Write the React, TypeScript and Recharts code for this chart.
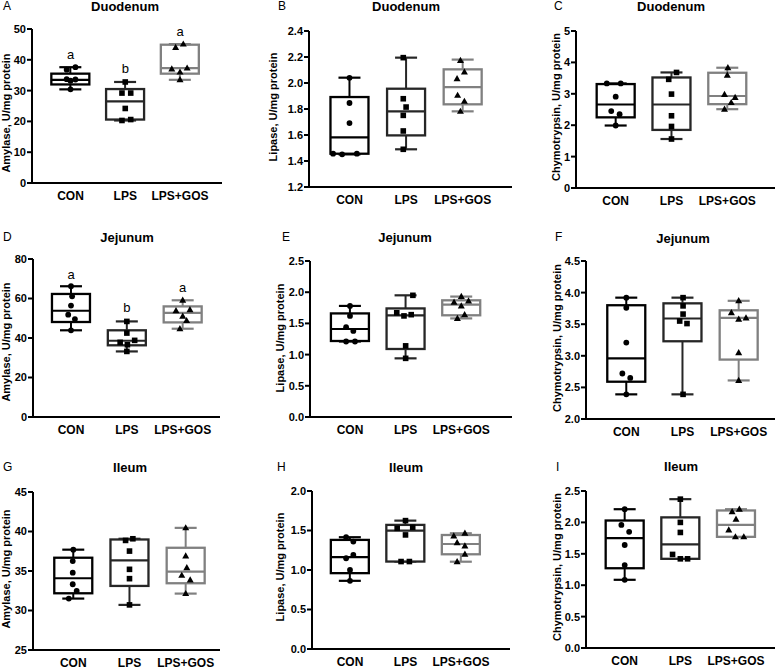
import React from 'react';
import { ComposedChart, Bar, Scatter, XAxis, YAxis } from 'recharts';

const GROUPS = ['CON', 'LPS', 'LPS+GOS'];

// Box stats per group: [min, q1, median, q3, max]  (CON, LPS, LPS+GOS)
const A_BOX = [[30.4, 32.0, 33.5, 35.5, 37.6], [20.3, 20.6, 26.5, 30.5, 32.8], [33.5, 35.5, 37.3, 44.9, 45.1]];
const A_PTS = [[37.6, 36.8, 33.7, 33.2, 33.6, 30.4], [32.8, 29.2, 29.2, 24.2, 20.3, 20.6], [45.1, 44.0, 37.0, 36.0, 37.3, 33.5]];
const A_JIT = [[0.09, -0.07, -0.07, 0, 0.09, 0], [0, -0.06, 0.1, 0, -0.06, 0.1], [0.06, -0.08, -0.15, 0, 0.13, 0]];
const A_SIG = ['a', 'b', 'a'];
const A_SIG_Y = [41.6, 37.3, 49.2];
const A_TICKS = [0, 10, 20, 30, 40, 50];

const B_BOX = [[1.451, 1.456, 1.582, 1.892, 2.041], [1.49, 1.597, 1.782, 1.956, 2.195], [1.782, 1.836, 1.969, 2.105, 2.18]];
const B_PTS = [[2.04, 1.846, 1.692, 1.456, 1.451, 1.456], [2.195, 1.879, 1.815, 1.751, 1.631, 1.49], [2.174, 2.085, 2.033, 1.905, 1.859, 1.782]];
const B_JIT = [[0, 0, 0, -0.29, -0.13, 0.13], [-0.05, -0.05, 0, -0.05, -0.05, -0.05], [-0.04, 0.03, -0.1, -0.09, 0.03, -0.04]];
const B_TICKS = [1.2, 1.4, 1.6, 1.8, 2.0, 2.2, 2.4];

const C_BOX = [[1.99, 2.25, 2.66, 3.31, 3.33], [1.56, 1.85, 2.66, 3.52, 3.68], [2.51, 2.67, 2.93, 3.67, 3.83]];
const C_PTS = [[3.33, 3.33, 2.91, 2.45, 2.35, 1.99], [3.68, 3.46, 2.99, 2.3, 1.96, 1.56], [3.83, 3.59, 2.98, 2.88, 2.72, 2.51]];
const C_JIT = [[-0.16, 0.09, 0, -0.08, 0.07, 0], [0.09, -0.05, 0, 0, 0, 0], [0.01, 0, -0.05, 0.14, 0.07, -0.05]];
const C_TICKS = [0, 1, 2, 3, 4, 5];

const D_BOX = [[43.9, 48.1, 53.8, 62.3, 66.2], [33.2, 36.3, 38.6, 43.9, 48.4], [44.7, 47.9, 52.7, 56.0, 59.1]];
const D_PTS = [[66.2, 61.1, 56.4, 51.8, 49.6, 43.9], [48.4, 42.5, 37.8, 38.8, 36.6, 33.2], [59.1, 53.8, 54.3, 51.0, 48.8, 44.7]];
const D_JIT = [[0, 0.02, 0, -0.05, 0.07, 0], [0, 0, -0.12, 0.14, 0.01, 0], [0, -0.12, 0.13, 0, 0.07, -0.05]];
const D_SIG = ['a', 'b', 'a'];
const D_SIG_Y = [72, 55.2, 65.7];
const D_TICKS = [0, 20, 40, 60, 80];

const E_BOX = [[1.21, 1.218, 1.41, 1.66, 1.78], [0.94, 1.09, 1.63, 1.74, 1.95], [1.58, 1.63, 1.8, 1.87, 1.93]];
const E_PTS = [[1.78, 1.62, 1.44, 1.38, 1.21, 1.21], [1.95, 1.67, 1.62, 1.64, 1.14, 0.94], [1.93, 1.84, 1.86, 1.78, 1.64, 1.58]];
const E_JIT = [[0, 0, -0.07, 0.06, -0.07, 0.09], [0.13, -0.16, -0.03, 0.1, 0, 0], [0, -0.13, 0.13, 0, 0.06, -0.07]];
const E_TICKS = [0, 0.5, 1.0, 1.5, 2.0, 2.5];

const F_BOX = [[2.39, 2.59, 2.96, 3.8, 3.92], [2.39, 3.23, 3.59, 3.83, 3.92], [2.61, 2.94, 3.6, 3.72, 3.87]];
const F_PTS = [[3.92, 3.76, 3.21, 2.72, 2.65, 2.39], [3.92, 3.79, 3.66, 3.55, 3.51, 2.39], [3.87, 3.68, 3.58, 3.6, 3.05, 2.61]];
const F_JIT = [[0, 0, 0, -0.07, 0.07, 0], [0.01, 0.01, 0.01, -0.05, 0.08, 0.01], [0, -0.13, 0, 0.13, 0, 0]];
const F_TICKS = [2.0, 2.5, 3.0, 3.5, 4.0, 4.5];

const G_BOX = [[31.51, 32.18, 34.08, 36.68, 37.7], [30.71, 33.11, 36.34, 38.99, 39.08], [32.14, 33.45, 34.92, 37.94, 40.46]];
const G_PTS = [[37.7, 36.26, 34.79, 33.32, 32.48, 31.51], [38.87, 39.08, 37.52, 35.21, 34.03, 30.71], [40.46, 36.89, 35.42, 34.45, 33.87, 32.14]];
const G_JIT = [[0, -0.01, -0.01, -0.01, 0.06, -0.08], [-0.07, 0.06, 0, 0, 0, 0], [0, 0, 0.02, -0.07, 0.08, 0]];
const G_TICKS = [25, 30, 35, 40, 45];

const H_BOX = [[0.863, 0.96, 1.162, 1.381, 1.415], [1.107, 1.107, 1.499, 1.571, 1.625], [1.105, 1.199, 1.329, 1.443, 1.465]];
const H_PTS = [[1.415, 1.36, 1.149, 1.19, 1.0, 0.863], [1.625, 1.528, 1.541, 1.444, 1.107, 1.107], [1.43, 1.465, 1.346, 1.304, 1.199, 1.105]];
const H_JIT = [[-0.07, 0.06, -0.07, 0.06, 0, 0], [0, -0.15, 0.13, 0, -0.08, 0.07], [-0.13, 0.07, -0.07, 0.07, 0.07, -0.07]];
const H_TICKS = [0, 0.5, 1.0, 1.5, 2.0];

const I_BOX = [[1.086, 1.27, 1.75, 2.03, 2.21], [1.42, 1.42, 1.65, 2.08, 2.37], [1.77, 1.77, 1.96, 2.19, 2.21]];
const I_PTS = [[2.21, 1.96, 1.85, 1.64, 1.32, 1.086], [2.37, 2.0, 1.84, 1.49, 1.42, 1.42], [2.17, 2.21, 2.05, 1.88, 1.77, 1.77]];
const I_JIT = [[0, -0.06, 0.08, 0, 0, 0], [0, 0, 0, -0.14, 0, 0.13], [-0.07, 0.06, 0, -0.13, -0.01, 0.14]];
const I_TICKS = [0, 0.5, 1.0, 1.5, 2.0, 2.5];

// ---- styling / layout ----
const FONT = '"Liberation Sans", Arial, Helvetica, sans-serif';
const GROUP_STROKE = ['#000000', '#262626', '#808080'];
const BOX_W = 38;
const CAP_W = 22;
const YW = 32;
const MT = 10;
const MR = 3;
const XH = 24;

type Layout = {
  axisX: number; top: number; bottom: number; end: number; c0: number; c2: number;
  title: [number, number]; letter: [number, number]; ylab: [number, number];
};

type PanelDef = {
  letter: string; title: string; ylabel: string;
  box: number[][]; pts: number[][]; jit: number[][]; ticks: number[]; dec: number;
  sig?: string[]; sigY?: number[]; L: Layout;
};

const PANELS: PanelDef[] = [
  { letter: 'A', title: 'Duodenum', ylabel: 'Amylase, U/mg protein', box: A_BOX, pts: A_PTS, jit: A_JIT, ticks: A_TICKS, dec: 0, sig: A_SIG, sigY: A_SIG_Y,
    L: { axisX: 32, top: 29, bottom: 183, end: 222, c0: 70.5, c2: 180, title: [125, 6], letter: [3, 6], ylab: [6, 113] } },
  { letter: 'B', title: 'Duodenum', ylabel: 'Lipase, U/mg protein', box: B_BOX, pts: B_PTS, jit: B_JIT, ticks: B_TICKS, dec: 1,
    L: { axisX: 309, top: 31, bottom: 187, end: 512, c0: 349.5, c2: 462.7, title: [406, 6], letter: [278, 6], ylab: [273, 107] } },
  { letter: 'C', title: 'Duodenum', ylabel: 'Chymotrypsin, U/mg protein', box: C_BOX, pts: C_PTS, jit: C_JIT, ticks: C_TICKS, dec: 0,
    L: { axisX: 576, top: 31, bottom: 188, end: 775, c0: 615.7, c2: 727.3, title: [671, 6], letter: [554, 6], ylab: [555.5, 107] } },
  { letter: 'D', title: 'Jejunum', ylabel: 'Amylase, U/mg protein', box: D_BOX, pts: D_PTS, jit: D_JIT, ticks: D_TICKS, dec: 0, sig: D_SIG, sigY: D_SIG_Y,
    L: { axisX: 33, top: 259, bottom: 417, end: 220, c0: 71, c2: 182.7, title: [127, 237], letter: [3, 237], ylab: [6, 342] } },
  { letter: 'E', title: 'Jejunum', ylabel: 'Lipase, U/mg protein', box: E_BOX, pts: E_PTS, jit: E_JIT, ticks: E_TICKS, dec: 1,
    L: { axisX: 310, top: 261, bottom: 417, end: 512, c0: 350, c2: 461.3, title: [405, 237], letter: [282, 237], ylab: [280, 338] } },
  { letter: 'F', title: 'Jejunum', ylabel: 'Chymotrypsin, U/mg protein', box: F_BOX, pts: F_PTS, jit: F_JIT, ticks: F_TICKS, dec: 1,
    L: { axisX: 586, top: 261, bottom: 419, end: 775, c0: 626.3, c2: 738.7, title: [683, 238], letter: [555, 237], ylab: [557, 338] } },
  { letter: 'G', title: 'Ileum', ylabel: 'Amylase, U/mg protein', box: G_BOX, pts: G_PTS, jit: G_JIT, ticks: G_TICKS, dec: 0,
    L: { axisX: 33, top: 492, bottom: 650, end: 220, c0: 73.3, c2: 185.7, title: [130, 467], letter: [3, 467], ylab: [6, 569] } },
  { letter: 'H', title: 'Ileum', ylabel: 'Lipase, U/mg protein', box: H_BOX, pts: H_PTS, jit: H_JIT, ticks: H_TICKS, dec: 1,
    L: { axisX: 312, top: 491, bottom: 649, end: 510, c0: 350, c2: 461, title: [406, 467], letter: [277, 467], ylab: [280, 567] } },
  { letter: 'I', title: 'Ileum', ylabel: 'Chymotrypsin, U/mg protein', box: I_BOX, pts: I_PTS, jit: I_JIT, ticks: I_TICKS, dec: 1,
    L: { axisX: 586, top: 491, bottom: 648, end: 775, c0: 624.7, c2: 736, title: [681, 466], letter: [556, 467], ylab: [557, 567] } },
];

const groupOf = (p: any): number => {
  const v = p && p.payload && typeof p.payload.x === 'number' ? Math.round(p.payload.x) : p.index ?? 0;
  return Math.max(0, Math.min(2, v));
};

const span = (p: any) => {
  const y1 = Math.min(p.y, p.y + p.height);
  const y2 = Math.max(p.y, p.y + p.height);
  return [y1, y2];
};

const EmptyShape = () => <g />;

const LowerWhiskerShape = (p: any) => {
  if (p.x == null || p.y == null) return <g />;
  const color = GROUP_STROKE[groupOf(p)];
  const cx = p.x + p.width / 2;
  const [y1, y2] = span(p);
  return (
    <g>
      <line x1={cx} x2={cx} y1={y1} y2={y2} stroke={color} strokeWidth={2} />
      <line x1={cx - CAP_W / 2} x2={cx + CAP_W / 2} y1={y2} y2={y2} stroke={color} strokeWidth={2.2} />
    </g>
  );
};

const UpperWhiskerShape = (p: any) => {
  if (p.x == null || p.y == null) return <g />;
  const color = GROUP_STROKE[groupOf(p)];
  const cx = p.x + p.width / 2;
  const [y1, y2] = span(p);
  return (
    <g>
      <line x1={cx} x2={cx} y1={y1} y2={y2} stroke={color} strokeWidth={2} />
      <line x1={cx - CAP_W / 2} x2={cx + CAP_W / 2} y1={y1} y2={y1} stroke={color} strokeWidth={2.2} />
    </g>
  );
};

const BoxShape = (p: any) => {
  if (p.x == null || p.y == null) return <g />;
  const cx = p.x + p.width / 2;
  const [y1, y2] = span(p);
  return (
    <rect x={cx - BOX_W / 2} y={y1} width={BOX_W} height={y2 - y1} fill="#ffffff" stroke={GROUP_STROKE[groupOf(p)]} strokeWidth={2.3} />
  );
};

const MedianShape = (p: any) => (
  <line x1={p.cx - BOX_W / 2} x2={p.cx + BOX_W / 2} y1={p.cy} y2={p.cy} stroke={GROUP_STROKE[groupOf(p)]} strokeWidth={2.2} />
);

const CircleShape = (p: any) => <circle cx={p.cx} cy={p.cy} r={2.9} fill="#000" />;
const SquareShape = (p: any) => <rect x={p.cx - 2.8} y={p.cy - 2.8} width={5.6} height={5.6} fill="#000" />;
const TriangleShape = (p: any) => (
  <polygon points={`${p.cx},${p.cy - 3.7} ${p.cx - 3.5},${p.cy + 2.5} ${p.cx + 3.5},${p.cy + 2.5}`} fill="#000" />
);
const MARKERS = [CircleShape, SquareShape, TriangleShape];

const SigShape = (p: any) => (
  <text x={p.cx} y={p.cy} textAnchor="middle" dominantBaseline="central" fontSize={13} fontFamily={FONT} fill="#000">
    {p.payload.label}
  </text>
);

function Panel({ d }: { d: PanelDef }) {
  const L = d.L;
  const width = YW + (L.end - L.axisX) + MR;
  const height = MT + (L.bottom - L.top) + XH;
  const s = (L.c2 - L.c0) / 2;
  const domain: [number, number] = [(L.axisX - L.c0) / s, (L.end - L.c0) / s];
  // stacked segments: base (hidden) -> lower whisker -> box -> upper whisker
  const rows = d.box.map((b, i) => ({ x: i, base: b[0], lowW: b[1] - b[0], boxH: b[3] - b[1], upW: b[4] - b[3] }));
  const medians = d.box.map((b, i) => ({ x: i, y: b[2] }));
  const pts = d.pts.map((g, i) => g.map((v, j) => ({ x: i + d.jit[i][j], y: v })));
  const sig = d.sig && d.sigY ? d.sig.map((t, i) => ({ x: i, y: d.sigY![i], label: t })) : null;
  const yDomain: [number, number] = [d.ticks[0], d.ticks[d.ticks.length - 1]];

  return (
    <div style={{ position: 'absolute', left: L.axisX - YW, top: L.top - MT }}>
      <ComposedChart width={width} height={height} data={rows} margin={{ top: MT, right: MR, bottom: 0, left: 0 }}>
        <XAxis
          type="number"
          dataKey="x"
          domain={domain}
          allowDataOverflow
          ticks={[0, 1, 2]}
          interval={0}
          tickFormatter={(v: number) => GROUPS[Math.round(v)]}
          height={XH}
          axisLine={{ stroke: '#000', strokeWidth: 2 }}
          tickLine={false}
          tick={{ fill: '#000', fontSize: 12, fontWeight: 'bold', fontFamily: FONT }}
        />
        <YAxis
          type="number"
          dataKey="y"
          domain={yDomain}
          allowDataOverflow
          ticks={d.ticks}
          interval={0}
          width={YW}
          tickSize={5}
          tickMargin={1}
          tickFormatter={(v: number) => v.toFixed(d.dec)}
          axisLine={{ stroke: '#000', strokeWidth: 2 }}
          tickLine={{ stroke: '#000', strokeWidth: 2 }}
          tick={{ fill: '#000', fontSize: 11, fontWeight: 'bold', fontFamily: FONT }}
        />
        <Bar dataKey="base" stackId="s" barSize={BOX_W} shape={EmptyShape} isAnimationActive={false} />
        <Bar dataKey="lowW" stackId="s" barSize={BOX_W} shape={LowerWhiskerShape} isAnimationActive={false} />
        <Bar dataKey="boxH" stackId="s" barSize={BOX_W} shape={BoxShape} isAnimationActive={false} />
        <Bar dataKey="upW" stackId="s" barSize={BOX_W} shape={UpperWhiskerShape} isAnimationActive={false} />
        <Scatter data={medians} shape={MedianShape} isAnimationActive={false} />
        {pts.map((g, i) => (
          <Scatter key={i} data={g} shape={MARKERS[i]} isAnimationActive={false} />
        ))}
        {sig && <Scatter data={sig} shape={SigShape} isAnimationActive={false} />}
      </ComposedChart>
    </div>
  );
}

export default function App() {
  return (
    <div style={{ position: 'absolute', left: 0, top: 0, width: 778, height: 669, background: '#fff', fontFamily: FONT, color: '#000', overflow: 'hidden' }}>
      {PANELS.map((d) => (
        <React.Fragment key={d.letter}>
          <div style={{ position: 'absolute', left: d.L.letter[0], top: d.L.letter[1], transform: 'translateY(-50%)', fontSize: 12, lineHeight: 1 }}>
            {d.letter}
          </div>
          <div style={{ position: 'absolute', left: d.L.title[0], top: d.L.title[1], transform: 'translate(-50%, -50%)', fontSize: 13, fontWeight: 'bold', lineHeight: 1, whiteSpace: 'nowrap' }}>
            {d.title}
          </div>
          <div style={{ position: 'absolute', left: d.L.ylab[0], top: d.L.ylab[1], transform: 'translate(-50%, -50%) rotate(-90deg)', fontSize: 11, fontWeight: 'bold', lineHeight: 1, whiteSpace: 'nowrap' }}>
            {d.ylabel}
          </div>
          <Panel d={d} />
        </React.Fragment>
      ))}
    </div>
  );
}
